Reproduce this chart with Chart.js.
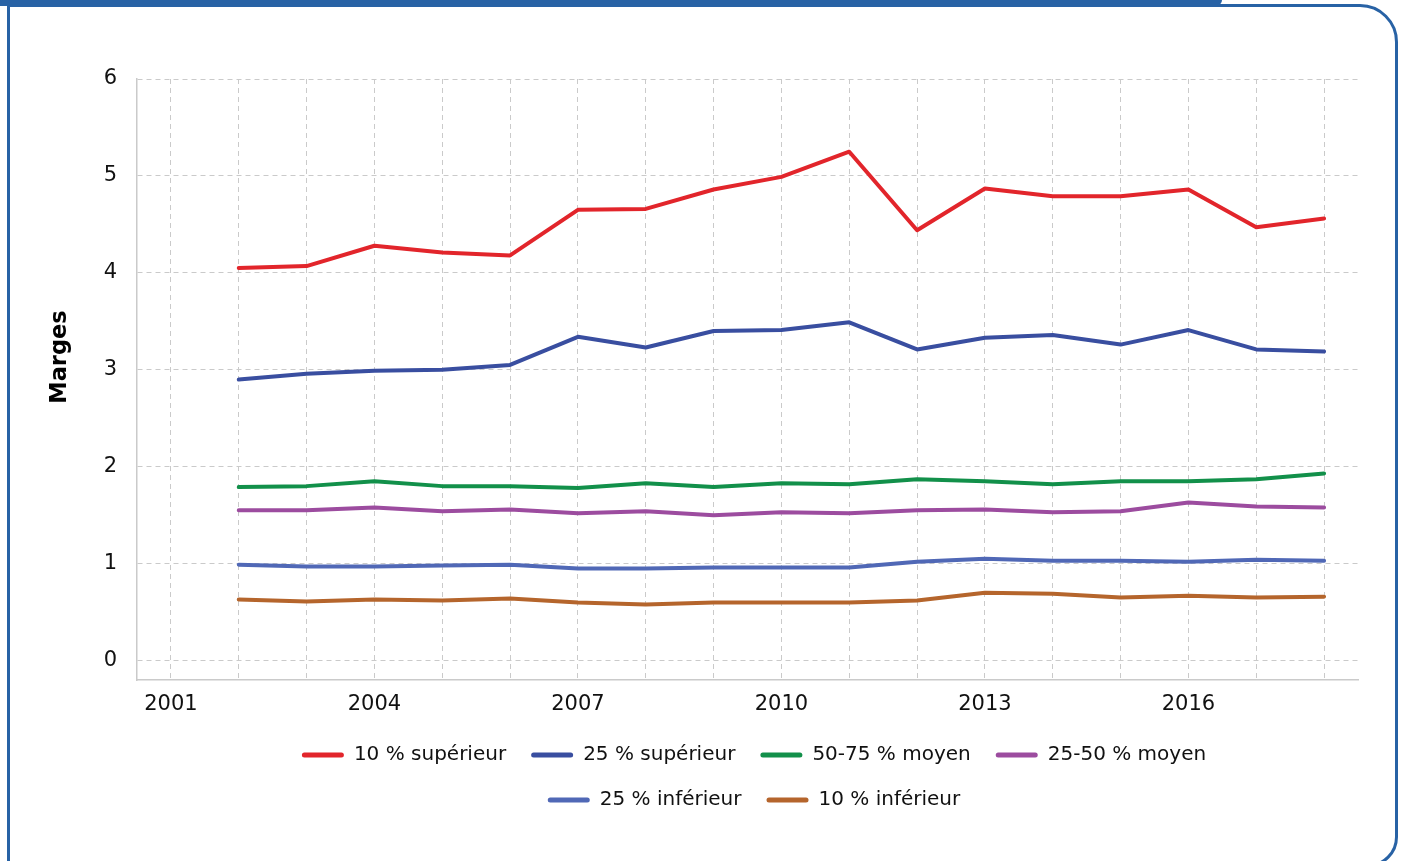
<!DOCTYPE html>
<html lang="fr">
<head>
<meta charset="utf-8">
<title>Marges</title>
<script src="https://cdn.jsdelivr.net/npm/chart.js@4.4.1/dist/chart.umd.min.js"></script>
<style>
  html, body { margin: 0; padding: 0; background: #fff; }
  body { width: 1403px; height: 861px; position: relative; overflow: hidden; }
  .frame {
    position: absolute; left: 7px; top: 4px; width: 1391px; height: 863px;
    border: 3px solid #2862a5; border-radius: 0 38px 30px 0; box-sizing: border-box;
  }
  .band {
    position: absolute; left: 0; top: 0; width: 1222px; height: 6px;
    background: #2862a5; border-bottom-right-radius: 8px;
  }
  #chart { position: absolute; left: 0; top: 0; }
</style>
</head>
<body>
<div class="frame"></div>
<div class="band"></div>
<canvas id="chart" width="1403" height="861"></canvas>
<script>
const years = ['2001', '2002', '2003', '2004', '2005', '2006', '2007', '2008', '2009',
  '2010', '2011', '2012', '2013', '2014', '2015', '2016', '2017', '2018'];
const yTicks = [0, 1, 2, 3, 4, 5, 6];

// no value for 2001, series start in 2002
const top10 = [null, 4.05, 4.07, 4.28, 4.21, 4.18, 4.65, 4.66, 4.86, 4.99, 5.25, 4.44, 4.87, 4.79, 4.79, 4.86, 4.47, 4.56];
const top25 = [null, 2.90, 2.96, 2.99, 3.00, 3.05, 3.34, 3.23, 3.40, 3.41, 3.49, 3.21, 3.33, 3.36, 3.26, 3.41, 3.21, 3.19];
const mid5075 = [null, 1.79, 1.80, 1.85, 1.80, 1.80, 1.78, 1.83, 1.79, 1.83, 1.82, 1.87, 1.85, 1.82, 1.85, 1.85, 1.87, 1.93];
const mid2550 = [null, 1.55, 1.55, 1.58, 1.54, 1.56, 1.52, 1.54, 1.50, 1.53, 1.52, 1.55, 1.56, 1.53, 1.54, 1.63, 1.59, 1.58];
const low25 = [null, 0.99, 0.97, 0.97, 0.98, 0.99, 0.95, 0.95, 0.96, 0.96, 0.96, 1.02, 1.05, 1.03, 1.03, 1.02, 1.04, 1.03];
const low10 = [null, 0.63, 0.61, 0.63, 0.62, 0.64, 0.60, 0.58, 0.60, 0.60, 0.60, 0.62, 0.70, 0.69, 0.65, 0.67, 0.65, 0.66];

const seriesNames = ['10 % supérieur', '25 % supérieur', '50-75 % moyen', '25-50 % moyen', '25 % inférieur', '10 % inférieur'];
const seriesColors = ['#e2252b', '#394ea0', '#12904a', '#9c4c9f', '#5068b6', '#b5652c'];
const seriesData = [top10, top25, mid5075, mid2550, low25, low10];

const FONT = "'DejaVu Sans', sans-serif";
const GRID = '#cacaca';

// keep the legend at four items on the first row, centred under the plot
const LEGEND_W = 1040;
const LEGEND_MID = 754;
const legendRows = {
  id: 'legendRows',
  afterInit(chart) {
    const lg = chart.legend;
    const update = lg.update;
    lg.update = function (w, h, m) {
      return update.call(this, Math.min(w, LEGEND_W), h, m);
    };
  },
  afterLayout(chart) {
    const lg = chart.legend;
    lg.left = LEGEND_MID - LEGEND_W / 2;
    lg.right = LEGEND_MID + LEGEND_W / 2;
    lg.width = LEGEND_W;
  }
};

// y axis title, set a little above the middle of the axis
const yTitle = {
  id: 'yTitle',
  afterDraw(chart) {
    const ctx = chart.ctx;
    ctx.save();
    ctx.translate(60, 357);
    ctx.rotate(-Math.PI / 2);
    ctx.font = 'bold 22.5px ' + FONT;
    ctx.fillStyle = '#000';
    ctx.textAlign = 'center';
    ctx.textBaseline = 'middle';
    ctx.fillText('Marges', 0, 0);
    ctx.restore();
  }
};

new Chart(document.getElementById('chart'), {
  type: 'line',
  data: {
    labels: years,
    datasets: seriesNames.map((name, i) => ({
      label: name,
      data: seriesData[i],
      borderColor: seriesColors[i],
      backgroundColor: seriesColors[i],
      borderWidth: 4,
      pointRadius: 0,
      tension: 0,
      borderJoinStyle: 'round',
      borderCapStyle: 'round'
    }))
  },
  plugins: [legendRows, yTitle],
  options: {
    responsive: false,
    animation: false,
    layout: { padding: { top: 79, right: 45, bottom: 41, left: 0 } },
    plugins: {
      tooltip: { enabled: false },
      legend: {
        position: 'bottom',
        labels: {
          color: '#111',
          font: { family: FONT, size: 20 },
          boxWidth: 42,
          boxHeight: 5,
          useBorderRadius: true,
          borderRadius: 2.5,
          padding: 25,
          generateLabels(chart) {
            return Chart.defaults.plugins.legend.labels.generateLabels(chart)
              .map(l => ({ ...l, lineWidth: 0 }));
          }
        }
      }
    },
    scales: {
      x: {
        type: 'category',
        offset: true,
        afterFit(scale) { scale.height = 40; },
        grid: { color: GRID, lineWidth: 1, offset: false, drawTicks: false },
        border: { display: true, color: GRID, width: 1.5, dash: [5, 4] },
        ticks: {
          autoSkip: false,
          maxRotation: 0,
          padding: 12,
          color: '#111',
          font: { family: FONT, size: 21 },
          callback(value, index) {
            return index % 3 === 0 ? years[index] : '';
          }
        }
      },
      y: {
        min: -0.2,
        max: 6,
        afterFit(scale) { scale.width = 137; },
        afterBuildTicks(scale) {
          scale.ticks = yTicks.map(v => ({ value: v }));
        },
        grid: { color: GRID, lineWidth: 1, drawTicks: false },
        border: { display: true, color: GRID, width: 1.5, dash: [5, 4] },
        ticks: {
          padding: 20,
          color: '#111',
          font: { family: FONT, size: 21 }
        }
      }
    }
  }
});
</script>
</body>
</html>
